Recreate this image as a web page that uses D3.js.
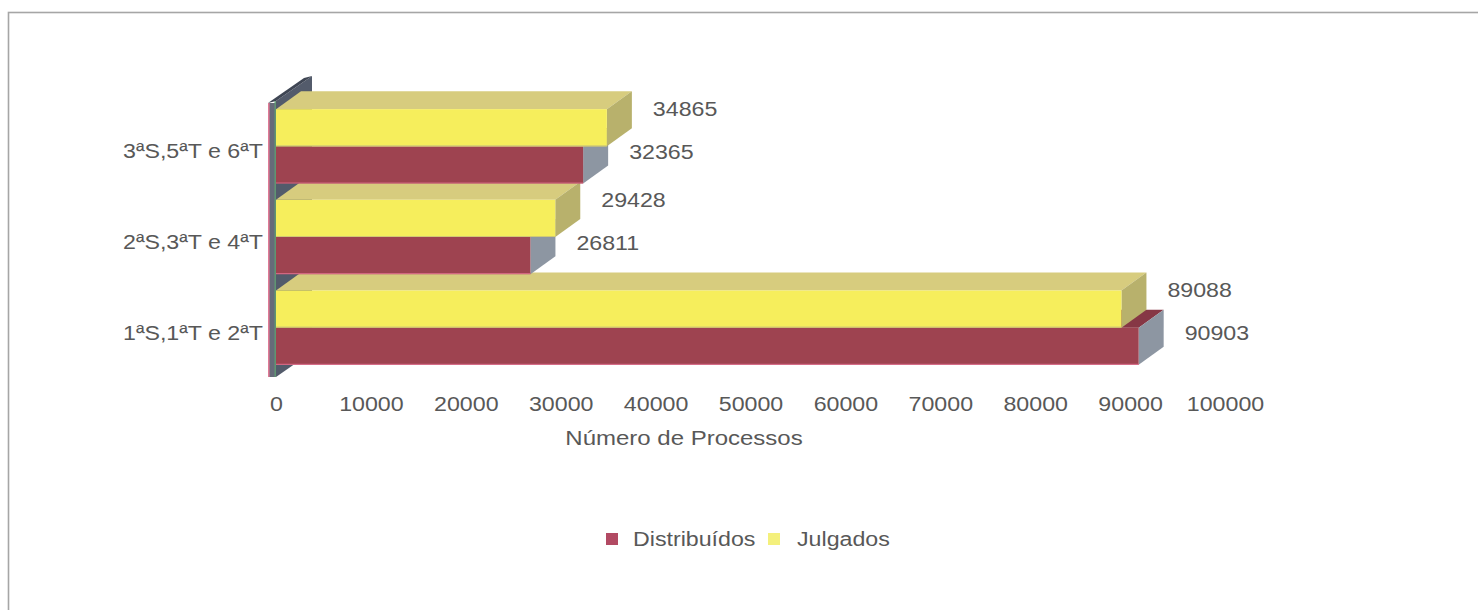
<!DOCTYPE html>
<html>
<head>
<meta charset="utf-8">
<script src="https://cdn.jsdelivr.net/npm/d3@7"></script>
<style>
  html, body { margin: 0; padding: 0; background: #fff; }
  svg { display: block; }
  text { font-family: "Liberation Sans", Arial, sans-serif; fill: #585858; }
</style>
</head>
<body>
<svg id="chart" width="1478" height="610"></svg>
<script>
// Processes per chamber group
const categories = ["3ªS,5ªT e 6ªT", "2ªS,3ªT e 4ªT", "1ªS,1ªT e 2ªT"];
const distribuidos = [32365, 26811, 90903];
const julgados = [34865, 29428, 89088];
const seriesNames = ["Julgados", "Distribuídos"];
const xTicks = [0, 10000, 20000, 30000, 40000, 50000, 60000, 70000, 80000, 90000, 100000];
const xTitle = "Número de Processos";

const svg = d3.select("#chart");
const W = 1478, H = 610;

// pseudo-3D projection offsets (depth goes up and to the right)
const barDX = 25, barDY = -18;
const wallDX = 36, wallDY = -25;
const stretch = "scale(1.16,1)";

const palette = {
  "Julgados":     { front: "#f6ee5c", top: "#d7cc7e", side: "#b8b16c", edge: "#c9c27a" },
  "Distribuídos": { front: "#9e4350", top: "#863745", side: "#8d96a2", edge: "#e0708e" }
};

// frame
svg.append("rect")
  .attr("x", 8.5).attr("y", 12.5)
  .attr("width", W + 20).attr("height", H + 20)
  .attr("fill", "none").attr("stroke", "#a6a6a6").attr("stroke-width", 1.6);

const x = d3.scaleLinear().domain([0, 100000]).range([276, 1225]);
const y = d3.scaleBand().domain(categories).range([101, 373])
  .paddingInner(0.18).paddingOuter(0.09);
const ySub = d3.scaleBand().domain(seriesNames).range([0, y.bandwidth()]);

const plotTop = 101, plotBottom = 377, wallW = 8;
const x0 = x(0);

// left wall: inner face and top edge, behind the bars
const wallBack = svg.append("g");
wallBack.append("polygon")
  .attr("points", [[x0, plotTop], [x0 + wallDX, plotTop + wallDY],
                   [x0 + wallDX, plotBottom + wallDY], [x0, plotBottom]].join(" "))
  .attr("fill", "#535b6b");
wallBack.append("polygon")
  .attr("points", [[x0 - wallW, plotTop + 2], [x0, plotTop],
                   [x0 + wallDX, plotTop + wallDY], [x0 - wallW + wallDX, plotTop + wallDY + 2]].join(" "))
  .attr("fill", "#3f4654");

// bars, drawn from the bottom category upward so upper bars overlap lower ones
const rows = categories.map((c, i) => ({
  cat: c,
  bars: [
    { series: "Distribuídos", value: distribuidos[i] },
    { series: "Julgados", value: julgados[i] }
  ]
})).reverse();

const barsG = svg.append("g");
rows.forEach(row => {
  row.bars.forEach(b => {
    const c = palette[b.series];
    const y1 = y(row.cat) + ySub(b.series);
    const y2 = y1 + ySub.bandwidth();
    const xr = x(b.value);
    const g = barsG.append("g");
    // top face
    g.append("polygon")
      .attr("points", [[x0, y1], [x0 + barDX, y1 + barDY], [xr + barDX, y1 + barDY], [xr, y1]].join(" "))
      .attr("fill", c.top);
    // right side face
    g.append("polygon")
      .attr("points", [[xr, y1], [xr + barDX, y1 + barDY], [xr + barDX, y2 + barDY], [xr, y2]].join(" "))
      .attr("fill", c.side);
    // front face
    g.append("rect")
      .attr("x", x0).attr("y", y1)
      .attr("width", xr - x0).attr("height", y2 - y1)
      .attr("fill", c.front);
    g.append("line")
      .attr("x1", x0).attr("x2", xr).attr("y1", y2 - 0.5).attr("y2", y2 - 0.5)
      .attr("stroke", c.edge).attr("stroke-width", 1.2).attr("opacity", 0.8);
  });
});

// wall front edge sits in front of the bars' left ends
const wallFront = svg.append("g");
wallFront.append("rect")
  .attr("x", x0 - wallW).attr("y", plotTop + 2)
  .attr("width", wallW).attr("height", plotBottom - plotTop - 2)
  .attr("fill", "#666b79");
wallFront.append("line")
  .attr("x1", x0 - wallW + 0.8).attr("x2", x0 - wallW + 0.8)
  .attr("y1", plotTop + 2).attr("y2", plotBottom)
  .attr("stroke", "#e07a96").attr("stroke-width", 1.6);
wallFront.append("line")
  .attr("x1", x0 - 0.8).attr("x2", x0 - 0.8)
  .attr("y1", plotTop).attr("y2", plotBottom)
  .attr("stroke", "#5f9a72").attr("stroke-width", 1.4);

// value labels
const labels = svg.append("g").style("font-size", "20px");
rows.forEach(row => {
  row.bars.forEach(b => {
    const y1 = y(row.cat) + ySub(b.series);
    const cy = b.series === "Julgados" ? y1 + 0 : y1 + 5.5;
    labels.append("g")
      .attr("transform", `translate(${x(b.value) + barDX + 21},${cy + 7})`)
      .append("text")
      .attr("transform", stretch)
      .attr("text-anchor", "start")
      .text(b.value);
  });
});

// category labels
const catG = svg.append("g").style("font-size", "20px");
categories.forEach(c => {
  catG.append("g")
    .attr("transform", `translate(263,${y(c) + y.bandwidth() / 2 + 12})`)
    .append("text")
    .attr("transform", stretch)
    .attr("text-anchor", "end")
    .text(c);
});

// x axis
const axis = d3.axisBottom(x).tickValues(xTicks).tickSize(0).tickPadding(0)
  .tickFormat(d3.format("d"));
const axisG = svg.append("g").attr("transform", "translate(0,397)").call(axis);
axisG.select(".domain").remove();
axisG.selectAll("text")
  .attr("y", 14).attr("dy", null)
  .attr("transform", stretch)
  .style("font-size", "20px")
  .style("font-family", "'Liberation Sans', Arial, sans-serif")
  .attr("fill", "#585858");

svg.append("g")
  .attr("transform", "translate(684,445)")
  .append("text")
  .attr("transform", "scale(1.2,1)")
  .attr("text-anchor", "middle")
  .style("font-size", "20px")
  .text(xTitle);

// legend
const legendItems = [
  { name: "Distribuídos", color: "#b24a63", x: 606 },
  { name: "Julgados", color: "#f4f07c", x: 768 }
];
const legend = svg.append("g");
legendItems.forEach(it => {
  legend.append("rect")
    .attr("x", it.x).attr("y", 533).attr("width", 12).attr("height", 12)
    .attr("fill", it.color);
  legend.append("g")
    .attr("transform", `translate(${it.x + (it.name === "Julgados" ? 29 : 27)},546)`)
    .append("text")
    .attr("transform", stretch)
    .style("font-size", "20px")
    .text(it.name);
});
</script>
</body>
</html>
